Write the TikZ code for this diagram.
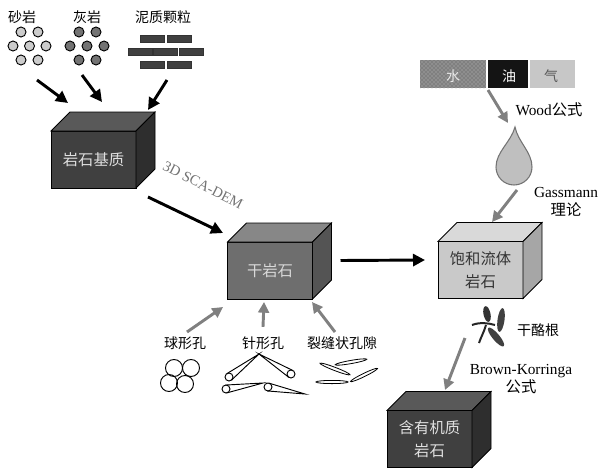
\documentclass[tikz,border=0pt]{standalone}
\usepackage{fontspec}
\setmainfont{Liberation Serif}
\newfontfamily\cjk{Noto Sans CJK SC}
\usetikzlibrary{arrows.meta,positioning,calc,patterns}

\tikzset{
  bigarrow/.style={line width=2.2pt, -{Triangle[length=9pt,width=9pt]}},
  greyarrow/.style={line width=2.2pt, draw=black!50, -{Triangle[length=8pt,width=8pt]}, color=black!50},
  rock/.style={draw=black, line width=0.6pt, outer sep=0pt, inner sep=0pt,
    minimum width=63.75pt, minimum height=42.75pt, align=center,
    font=\cjk\fontsize{11.5}{17}\selectfont},
  lbl/.style={font=\cjk\fontsize{10.5}{12}\selectfont},
  grain/.style={draw=black, line width=0.7pt},
  brick/.style={draw=black!80, fill=black!75, line width=0.5pt},
}
% top and side faces of a rock cube
\newcommand{\rockfaces}[3]{%
  \draw[fill=#2, line width=0.6pt] (#1.north west) -- ++(19,-19) -- ++(85,0) -- (#1.north east) -- cycle;
  \draw[fill=#3, line width=0.6pt] (#1.north east) -- ++(19,-19) -- ++(0,57) -- (#1.south east) -- cycle;
}
% needle shaped pore
\newcommand{\poreneedle}[2]{%
  \draw[line width=0.7pt] #1 circle[radius=4];
  \draw[line width=0.7pt] ($#1!3pt!90:#2$) -- #2 -- ($#1!3pt!-90:#2$);
}

\begin{document}
\begin{tikzpicture}[x=0.75pt,y=-0.75pt]
\useasboundingbox (0,0) rectangle (603,472);

% grains
\node[lbl] (sand) at (22,17) {砂岩};
\node[lbl] (lime) at (87,17) {灰岩};
\node[lbl] (clay) at (163,17) {泥质颗粒};
\foreach \x/\y in {21/32,38/32,13/46,29.5/46,46/46,21/60,38/60}
  \draw[grain, fill=black!20] (\x,\y) circle[radius=5];
\foreach \x/\y in {79/32,96/32,70/46,87/46,104/46,79/60,96/60}
  \draw[grain, fill=black!55] (\x,\y) circle[radius=5];
\foreach \x/\y in {140/35,167/35,128/48,153/48,179/48,140/61,167/61}
  \draw[brick] (\x,\y) rectangle ++(24,7);

% rock cubes
\node[rock, fill=black!75, text=black!12] (matrix) at (93.5,159.5) {岩石基质};
\rockfaces{matrix}{black!65}{black!82}
\node[rock, fill=black!57, text=black!15] (dry) at (270,270.5) {干岩石};
\rockfaces{dry}{black!47}{black!67}
\node[rock, fill=black!21, text=black!80] (sat) at (480.5,270) {饱和流体\\岩石};
\rockfaces{sat}{black!15}{black!35}
\node[rock, fill=black!75, text=black!12] (organic) at (429.5,439) {含有机质\\岩石};
\rockfaces{organic}{black!65}{black!82}

% grains into matrix
\coordinate (sand-out) at (37,80);
\coordinate (lime-out) at (82,75);
\coordinate (clay-out) at (167,80);
\coordinate (matrix-a) at (68,103);
\coordinate (matrix-b) at (102,102);
\coordinate (matrix-c) at (148,110);
\draw[bigarrow] (sand-out) -- (matrix-a);
\draw[bigarrow] (lime-out) -- (matrix-b);
\draw[bigarrow] (clay-out) -- (matrix-c);

% matrix to dry rock
\coordinate (matrix-out) at (148,197);
\coordinate (dry-in) at (223,233);
\draw[bigarrow] (matrix-out) -- (dry-in);
\node[rotate=-27, text=black!55, font=\fontsize{11}{13}\selectfont] (scadem) at (203,185) {3D SCA-DEM};
\draw[bigarrow] ($(dry.east)+(28,-10)$) -- ($(sat.west)+(-13,-10)$);

% pores
\node[lbl] (sphere) at (185,343) {球形孔};
\node[lbl] (needle) at (263,343) {针形孔};
\node[lbl] (crack) at (342,343) {裂缝状孔隙};
\draw[greyarrow] (187,332) -- (223,307);
\draw[greyarrow] (needle.north) ++(0,-5) -- (264,302);
\draw[greyarrow] (335,332) -- (312,302);
\foreach \x/\y in {174/368,191/368,169/383,185/384}
  \draw[line width=0.7pt] (\x,\y) circle[radius=8.5];
\poreneedle{(229,377)}{(259,354)}
\poreneedle{(291,374)}{(259,354)}
\poreneedle{(226,389)}{(263,383)}
\poreneedle{(268,387)}{(305,394)}
\draw[line width=0.6pt] (335,369) ellipse[x radius=16, y radius=1.6, rotate=-21];
\draw[line width=0.6pt] (351,362) ellipse[x radius=16, y radius=1.6, rotate=10];
\draw[line width=0.6pt] (332,382) ellipse[x radius=16, y radius=1.6];
\draw[line width=0.6pt] (364,375) ellipse[x radius=15, y radius=1.6, rotate=26];

% fluids
\fill[black!50] (420,60) rectangle (486,88);
\fill[pattern=crosshatch dots, pattern color=black!25] (420,60) rectangle (486,88);
\node[lbl, text=black!8] (water) at (453,76) {水};
\fill[black!92] (488,60) rectangle (528,88);
\node[lbl, text=white] (oil) at (509,76) {油};
\fill[black!22] (530,60) rectangle (575,88);
\node[lbl, text=black!65] (gas) at (551,76) {气};
\draw[greyarrow] (488,90) -- (508,123);
\node[font=\fontsize{11.5}{13}\selectfont] (wood) at (549,110) {Wood{\cjk 公式}};
\draw[draw=black!55, fill=black!25, line width=0.8pt] (515,127) .. controls (511,142) and (496,152) .. (496,167)
  arc[start angle=180, end angle=0, radius=18] .. controls (532,152) and (518,142) .. (515,127) -- cycle;
\draw[greyarrow] (517,190) -- (492,222);
\node[font=\fontsize{11.5}{14}\selectfont, align=center] (gassmann) at (566,202) {Gassmann\\{\cjk 理论}};

% kerogen
\fill[black!80] (487,314) ellipse[x radius=3.5, y radius=8, rotate=12];
\fill[black!75] (501,320) ellipse[x radius=3.5, y radius=12, rotate=-8];
\fill[black!75] (496,337) ellipse[x radius=3.5, y radius=12, rotate=40];
\draw[black!85, line width=1.5pt] (472,325) .. controls (480,322) and (488,323) .. (495,325);
\draw[black!85, line width=1.5pt] (486,325) .. controls (484,332) and (481,337) .. (479,343);
\node[lbl] (kerogen) at (538,330) {干酪根};
\draw[greyarrow] (465,338) -- (445,390);
\node[font=\fontsize{11.5}{14}\selectfont, align=center] (brown) at (521,379) {Brown-Korringa\\{\cjk 公式}};
\end{tikzpicture}
\end{document}
